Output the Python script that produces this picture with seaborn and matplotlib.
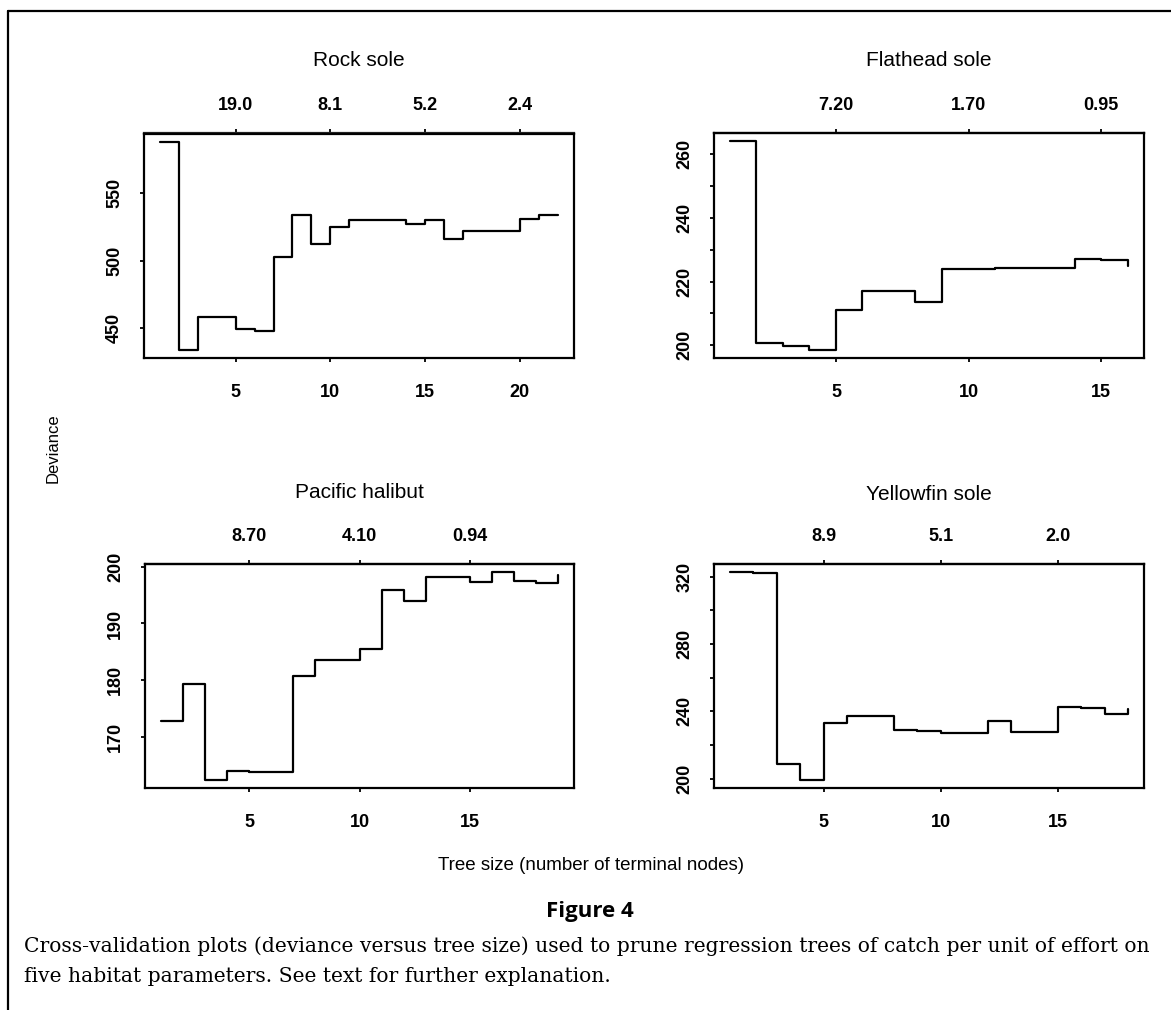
import numpy as np
import pandas as pd
import matplotlib
matplotlib.use("Agg")
import matplotlib.pyplot as plt
from matplotlib.lines import Line2D
import seaborn as sns

# cross-validation deviance per tree size
rock_sole_dev = [588, 434, 458, 458, 449, 448, 503, 534, 512, 525, 530,
                 530, 530, 527, 530, 516, 522, 522, 522, 531, 534, 534]
flathead_dev = [264.1, 200.8, 199.8, 198.6, 211.1, 217.2, 217.2, 213.6,
                224.0, 224.1, 224.2, 224.3, 224.4, 227.1, 226.9, 224.8]
halibut_dev = [172.8, 179.3, 162.5, 164.1, 163.9, 163.9, 180.7, 183.6,
               183.6, 185.5, 195.8, 193.9, 198.2, 198.1, 197.3, 199.0,
               197.5, 197.2, 198.6]
yellowfin_dev = [322.7, 322.4, 208.9, 199.4, 233.1, 237.1, 237.1, 228.8,
                 228.6, 227.2, 227.2, 234.5, 227.8, 227.8, 242.6, 242.2,
                 238.3, 241.4]

# top axis (cost-complexity) labels
rock_sole_top = ["19.0", "8.1", "5.2", "2.4"]
flathead_top = ["7.20", "1.70", "0.95"]
halibut_top = ["8.70", "4.10", "0.94"]
yellowfin_top = ["8.9", "5.1", "2.0"]

rock_sole_xticks = [5, 10, 15, 20]
other_xticks = [5, 10, 15]

rock_sole_yticks = [450, 500, 550]
rock_sole_ylabels = ["450", "500", "550"]
flathead_yticks = [200, 210, 220, 230, 240, 250, 260]
flathead_ylabels = ["200", "", "220", "", "240", "", "260"]
halibut_yticks = [170, 180, 190, 200]
halibut_ylabels = ["170", "180", "190", "200"]
yellowfin_yticks = [200, 220, 240, 260, 280, 300, 320]
yellowfin_ylabels = ["200", "", "240", "", "280", "", "320"]

W, H = 1171, 1010

sns.set_theme(style="ticks")
plt.rcParams['font.family'] = ['Liberation Sans', 'DejaVu Sans']
plt.rcParams['text.color'] = 'black'
plt.rcParams['xtick.color'] = 'black'
plt.rcParams['ytick.color'] = 'black'
plt.rcParams['axes.linewidth'] = 1.6
plt.rcParams['xtick.major.width'] = 1.3
plt.rcParams['ytick.major.width'] = 1.3
plt.rcParams['xtick.major.size'] = 3
plt.rcParams['ytick.major.size'] = 3

fig = plt.figure(figsize=(W / 100, H / 100), dpi=100)
fig.patch.set_facecolor("white")


def px_axes(x0, y0, x1, y1):
    return fig.add_axes([x0 / W, 1 - y1 / H, (x1 - x0) / W, (y1 - y0) / H])


panels = [
    ("Rock sole", rock_sole_dev, rock_sole_top, rock_sole_xticks,
     rock_sole_yticks, rock_sole_ylabels, (144, 133.5, 573.5, 358), 60),
    ("Flathead sole", flathead_dev, flathead_top, other_xticks,
     flathead_yticks, flathead_ylabels, (714, 133, 1143.5, 358), 61),
    ("Pacific halibut", halibut_dev, halibut_top, other_xticks,
     halibut_yticks, halibut_ylabels, (145, 564, 574, 788), 492),
    ("Yellowfin sole", yellowfin_dev, yellowfin_top, other_xticks,
     yellowfin_yticks, yellowfin_ylabels, (714, 564, 1144, 788), 494),
]

for title, dev, top_labels, xticks, yticks, ylabels, box, title_y in panels:
    ax = px_axes(*box)
    df = pd.DataFrame({"size": np.arange(1, len(dev) + 1), "deviance": dev})
    sns.lineplot(data=df, x="size", y="deviance", ax=ax, color="black",
                 linewidth=1.6, drawstyle="steps-post", estimator=None)
    ax.margins(x=0.04, y=0.04)
    ax.set_xlabel("")
    ax.set_ylabel("")
    ax.set_xticks(xticks)
    ax.set_xticklabels([str(t) for t in xticks], fontsize=13, fontweight="bold")
    ax.tick_params(axis="x", pad=16)
    ax.set_yticks(yticks)
    ax.set_yticklabels(ylabels, fontsize=13, fontweight="bold",
                       rotation=90, va="center")
    ax.tick_params(axis="y", pad=12)
    for s in ax.spines.values():
        s.set_visible(True)
        s.set_color("black")

    top = ax.secondary_xaxis("top")
    top.set_xticks(xticks)
    top.set_xticklabels(top_labels, fontsize=13, fontweight="bold")
    top.tick_params(axis="x", pad=11, length=3, width=1.3)

    cx = (box[0] + box[2]) / 2
    fig.text(cx / W, 1 - title_y / H, title, ha="center", va="center",
             fontsize=15)

fig.text(53 / W, 1 - 448 / H, "Deviance", rotation=90, ha="center",
         va="center", fontsize=12)
fig.text(591 / W, 1 - 865 / H, "Tree size (number of terminal nodes)",
         ha="center", va="center", fontsize=13.5)

fig.text(590 / W, 1 - 912 / H, "Figure 4", ha="center", va="center",
         fontsize=16, fontweight="bold", family=["Open Sans", "DejaVu Sans"])
fig.text(24 / W, 1 - 946 / H,
         "Cross-validation plots (deviance versus tree size) used to prune "
         "regression trees of catch per unit of effort on",
         ha="left", va="center", fontsize=14.6,
         family=["DejaVu Serif"])
fig.text(24 / W, 1 - 976 / H,
         "five habitat parameters. See text for further explanation.",
         ha="left", va="center", fontsize=14.6, family=["DejaVu Serif"])

# page frame (left and top rules)
fig.add_artist(Line2D([8 / W, 8 / W], [0, 1 - 11 / H], transform=fig.transFigure,
                      color="black", linewidth=1.6))
fig.add_artist(Line2D([8 / W, 1], [1 - 11 / H, 1 - 11 / H],
                      transform=fig.transFigure, color="black", linewidth=1.6))

fig.savefig("out.png", dpi=100, facecolor="white")
